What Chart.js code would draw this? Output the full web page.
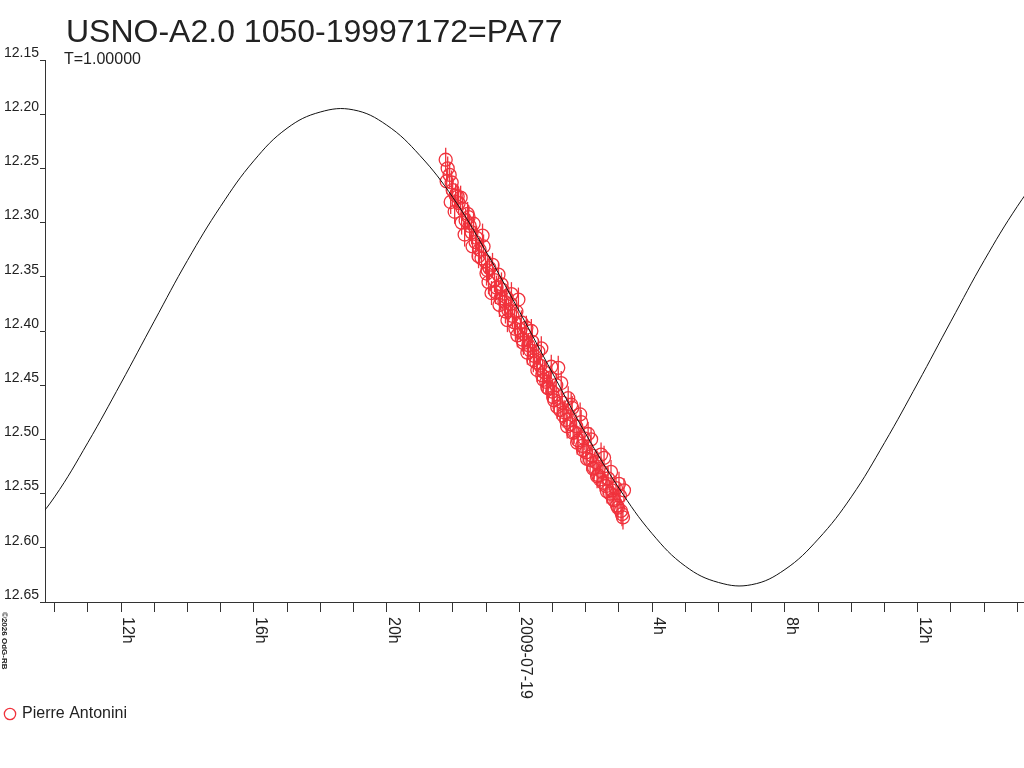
<!DOCTYPE html>
<html>
<head>
<meta charset="utf-8">
<script src="https://cdn.jsdelivr.net/npm/chart.js@4.4.1/dist/chart.umd.min.js"></script>
<style>
html, body { margin: 0; padding: 0; background: #fff; }
#wrap { width: 1024px; height: 768px; }
</style>
</head>
<body>
<div id="wrap"><canvas id="lc" width="1024" height="768"></canvas></div>
<script>
const titleText = 'USNO-A2.0 1050-19997172=PA77';
const periodText = 'T=1.00000';
const observer = 'Pierre Antonini';
const copyright = '\u00a92026 OdG-RB';

// time in hours from 2009-07-19 0h, magnitudes
const obsHours = [
  -2.22, -2.16, -2.10, -2.04, -2.01, -1.92, -1.83, -1.77, -1.71, -1.62,
  -1.56, -1.50, -1.44, -1.38, -1.29, -1.20, -1.14, -1.08, -1.02, -0.96,
  -0.90, -0.84, -0.75, -0.69, -0.63, -0.57, -0.51, -0.45, -0.39, -0.33,
  -0.27, -0.21, -0.15, -0.09, -0.03, 0.03, 0.09, 0.15, 0.21, 0.27,
  0.33, 0.39, 0.45, 0.51, 0.57, 0.63, 0.69, 0.75, 0.81, 0.87,
  0.93, 0.99, 1.05, 1.11, 1.17, 1.23, 1.29, 1.35, 1.41, 1.47,
  1.53, 1.59, 1.65, 1.71, 1.77, 1.83, 1.89, 1.95, 2.01, 2.07,
  2.13, 2.19, 2.25, 2.31, 2.37, 2.43, 2.49, 2.55, 2.61, 2.67,
  2.73, 2.79, 2.85, 2.91, 2.97, 3.03, 3.09, 3.15,
  -2.19, -2.07, -1.95, -1.86, -1.74, -1.65, -1.53, -1.41, -1.32, -1.23,
  -1.11, -0.99, -0.93, -0.81, -0.72, -0.60, -0.54, -0.42, -0.36, -0.24,
  -0.12, -0.06, 0.06, 0.12, 0.24, 0.36, 0.42, 0.54, 0.66, 0.72,
  0.84, 0.96, 1.02, 1.14, 1.26, 1.32, 1.44, 1.56, 1.62, 1.74,
  1.86, 1.92, 2.04, 2.16, 2.22, 2.34, 2.46, 2.52, 2.64, 2.76,
  2.82, 2.94, 3.00, 3.06, 3.12
];
const obsMags = [
  12.242, 12.250, 12.256, 12.263, 12.270, 12.275, 12.282, 12.277, 12.287, 12.298,
  12.292, 12.303, 12.309, 12.301, 12.314, 12.325, 12.333, 12.322, 12.336, 12.344,
  12.342, 12.365, 12.353, 12.360, 12.348, 12.370, 12.362, 12.373, 12.369, 12.381,
  12.375, 12.386, 12.392, 12.382, 12.371, 12.399, 12.408, 12.403, 12.397, 12.413,
  12.418, 12.410, 12.423, 12.429, 12.419, 12.432, 12.441, 12.438, 12.447, 12.453,
  12.443, 12.456, 12.464, 12.450, 12.434, 12.473, 12.466, 12.475, 12.482, 12.462,
  12.486, 12.471, 12.493, 12.488, 12.501, 12.477, 12.506, 12.499, 12.512, 12.495,
  12.519, 12.515, 12.526, 12.521, 12.533, 12.537, 12.530, 12.517, 12.543, 12.536,
  12.550, 12.547, 12.556, 12.545, 12.563, 12.552, 12.569, 12.547,
  12.262, 12.281, 12.290, 12.276, 12.300, 12.311, 12.295, 12.322, 12.318, 12.331,
  12.312, 12.347, 12.355, 12.339, 12.364, 12.376, 12.357, 12.382, 12.390, 12.366,
  12.398, 12.404, 12.392, 12.411, 12.420, 12.400, 12.427, 12.436, 12.416, 12.445,
  12.452, 12.433, 12.461, 12.470, 12.448, 12.478, 12.488, 12.468, 12.494, 12.503,
  12.484, 12.510, 12.518, 12.500, 12.527, 12.534, 12.514, 12.540, 12.548, 12.530,
  12.555, 12.561, 12.541, 12.566, 12.572
];

// fitted light curve, read hourly
const fitHours = [-15, -14, -13, -12, -11, -10, -9, -8, -7, -6, -5, -4, -3, -2, -1, 0,
  1, 2, 3, 4, 5, 6, 7, 8, 9, 10, 11, 12, 13, 14, 15, 16];
const fitMags = [12.592, 12.553, 12.503, 12.448, 12.391, 12.335, 12.285, 12.243, 12.213,
  12.198, 12.196, 12.210, 12.238, 12.277, 12.327, 12.382, 12.439, 12.495, 12.545, 12.587,
  12.617, 12.632, 12.634, 12.620, 12.592, 12.553, 12.503, 12.448, 12.391, 12.335, 12.285, 12.243];

const xLabelHours = [-12, -8, -4, 0, 4, 8, 12];
const xLabelText = ['12h', '16h', '20h', '2009-07-19', '4h', '8h', '12h'];
const yMin = 12.15, yMax = 12.65, yStep = 0.05;
const xMin = -14.29, xMax = 15.2;

const red = '#f0323c';
const ink = '#222';
const obsPoints = obsHours.map((h, i) => ({ x: h, y: obsMags[i] }));
const fitPoints = fitHours.map((h, i) => ({ x: h, y: fitMags[i] }));

const textPlugin = {
  id: 'texts',
  afterDraw(chart) {
    const ctx = chart.ctx;
    const xs = chart.scales.x;
    ctx.save();
    ctx.fillStyle = ink;
    ctx.textAlign = 'left';
    ctx.textBaseline = 'alphabetic';
    ctx.font = '32px "Liberation Sans", Arial, sans-serif';
    ctx.fillText(titleText, 66, 42);
    ctx.font = '16px "Liberation Sans", Arial, sans-serif';
    ctx.fillText(periodText, 64, 64);

    // rotated hour labels under the axis
    xLabelHours.forEach((h, i) => {
      const px = xs.getPixelForValue(h);
      ctx.save();
      ctx.translate(px + 2, xs.top + 15);
      ctx.rotate(Math.PI / 2);
      ctx.font = '16px "Liberation Sans", Arial, sans-serif';
      ctx.fillText(xLabelText[i], 0, 0);
      ctx.restore();
    });

    ctx.save();
    ctx.translate(2, 612);
    ctx.rotate(Math.PI / 2);
    ctx.font = 'bold 8px "Liberation Sans", Arial, sans-serif';
    ctx.fillText(copyright, 0, 0);
    ctx.restore();
    ctx.restore();
  }
};

new Chart(document.getElementById('lc'), {
  type: 'scatter',
  data: {
    datasets: [
      {
        label: 'fit',
        data: fitPoints,
        showLine: true,
        borderColor: '#111',
        borderWidth: 1,
        pointRadius: 0,
        tension: 0.4
      },
      {
        label: observer,
        data: obsPoints,
        pointStyle: 'circle',
        pointRadius: 6.5,
        borderWidth: 1.3,
        borderColor: red,
        backgroundColor: 'rgba(0,0,0,0)'
      },
      {
        label: 'errors',
        data: obsPoints,
        pointStyle: 'line',
        rotation: 90,
        pointRadius: 12,
        borderWidth: 1.3,
        borderColor: red
      }
    ]
  },
  options: {
    responsive: false,
    animation: false,
    layout: { autoPadding: false, padding: { top: 60, left: 0, right: 0, bottom: 36 } },
    plugins: {
      tooltip: { enabled: false },
      legend: {
        position: 'bottom',
        align: 'start',
        labels: {
          usePointStyle: true,
          boxWidth: 8,
          boxHeight: 8,
          padding: 6,
          color: ink,
          font: { family: '"Liberation Sans", Arial, sans-serif', size: 16 },
          filter: item => item.text === observer
        }
      }
    },
    scales: {
      x: {
        type: 'linear',
        min: xMin,
        max: xMax,
        border: { color: '#333', width: 1 },
        grid: { drawOnChartArea: false, tickLength: 10, color: '#333' },
        ticks: { stepSize: 1, includeBounds: false, display: false },
        afterFit: s => { s.height = 98; }
      },
      y: {
        min: yMin,
        max: yMax,
        reverse: true,
        border: { color: '#333', width: 1 },
        grid: { drawOnChartArea: false, tickLength: 5, color: '#333' },
        ticks: {
          stepSize: yStep,
          padding: 1,
          labelOffset: -7,
          color: ink,
          font: { family: '"Liberation Sans", Arial, sans-serif', size: 14 },
          callback: v => v.toFixed(2)
        },
        afterFit: s => { s.width = 45; }
      }
    }
  },
  plugins: [textPlugin]
});
</script>
</body>
</html>
